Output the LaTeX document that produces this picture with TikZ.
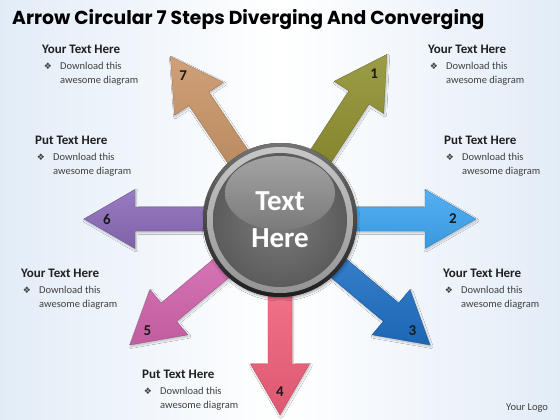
\documentclass[tikz,border=0pt]{standalone}
\usepackage{fontspec}
\setmainfont{Carlito}
\newfontfamily\titlefont{Poppins}
\newfontfamily\symfont{DejaVu Sans}
\usetikzlibrary{positioning,shadows.blur}
\definecolor{bgblue}{HTML}{E2ECF7}
\definecolor{stepone}{HTML}{8E8F2E}
\definecolor{steptwo}{HTML}{3EA5F0}
\definecolor{stepthree}{HTML}{1E6FC4}
\definecolor{stepfour}{HTML}{F0607A}
\definecolor{stepfive}{HTML}{D264AD}
\definecolor{stepsix}{HTML}{8A6AB8}
\definecolor{stepseven}{HTML}{C99466}

\begin{document}
\begin{tikzpicture}[
    x=1pt, y=-1pt,
    heading/.style={anchor=base west, inner sep=0, font=\bfseries\fontsize{13}{15}\selectfont, text=black!88},
    bulletmark/.style={anchor=base, inner sep=0, font=\symfont\fontsize{9}{9}\selectfont, text=black!75},
    itemtext/.style={anchor=base west, inner sep=0, align=left, font=\fontsize{10.5}{14}\selectfont, text=black!75},
    stepnum/.style={inner sep=0, font=\bfseries\fontsize{15}{15}\selectfont, text=black!90},
    steparrow/.style={draw=#1!75!black, line width=0.3pt, top color=#1!88!white, bottom color=#1!92!black,
        blur shadow={shadow xshift=1pt, shadow yshift=-1.5pt, shadow opacity=25, shadow blur steps=6}},
    hubtext/.style={align=center, inner sep=0, text=white, font=\bfseries\fontsize{29}{37}\selectfont}]
\useasboundingbox (0,0) rectangle (560,420);
\shade[left color=bgblue, right color=bgblue, middle color=white] (0,0) rectangle (560,420);

\node[anchor=base west, inner sep=0, font=\titlefont\bfseries\fontsize{18.8}{19}\selectfont] (title) at (12,25)
    {Arrow Circular 7 Steps Diverging And Converging};

\foreach \ang/\num/\col in {57/1/stepone, 0/2/steptwo, -40/3/stepthree, -90/4/stepfour,
                            -140/5/stepfive, 180/6/stepsix, 124/7/stepseven}{
  \begin{scope}[shift={(280,219)}, rotate=\ang]
    \path[steparrow=\col] (62,-12) -- (145,-12) -- (145,-29.5) -- (196,0) -- (145,29.5) -- (145,12) -- (62,12) -- cycle;
    \node[stepnum] (num\num) at (173,0) {\num};
  \end{scope}
}

\coordinate (hubc) at (280,220);
\fill[black!80, blur shadow={shadow xshift=1pt, shadow yshift=-2pt, shadow opacity=30}] (hubc) circle (77);
\shade[top color=black!55, bottom color=black!88] (hubc) circle (77);
\shade[top color=black!22, bottom color=black!42] (hubc) circle (73);
\shade[inner color=black!52, outer color=black!64] (hubc) circle (67);
\shade[top color=black!36, bottom color=black!52] (280,193) ellipse (55 and 37);
\node[hubtext] (hub) at (hubc) {Text\\Here};

\foreach \n/\x/\y/\h in {tl/42/53.5/Your Text Here, ml/35/144.5/Put Text Here, bl/21/277.5/Your Text Here,
                         tr/428/53.5/Your Text Here, mr/444/144.5/Put Text Here, br/443/277.5/Your Text Here,
                         bm/142/378.5/Put Text Here}{
  \node[heading] (\n-head) at (\x,\y) {\h};
  \node[bulletmark] (\n-mark) at ([xshift=6pt, yshift=-16pt]\n-head.base west) {❖};
  \node[itemtext] (\n-body) at ([xshift=18pt, yshift=-30pt]\n-head.base west) {Download this\\awesome diagram};
}

\node[anchor=base west, inner sep=0, font=\fontsize{10.5}{12}\selectfont, text=black!75] (logo) at (506,410) {Your Logo};

\end{tikzpicture}
\end{document}
